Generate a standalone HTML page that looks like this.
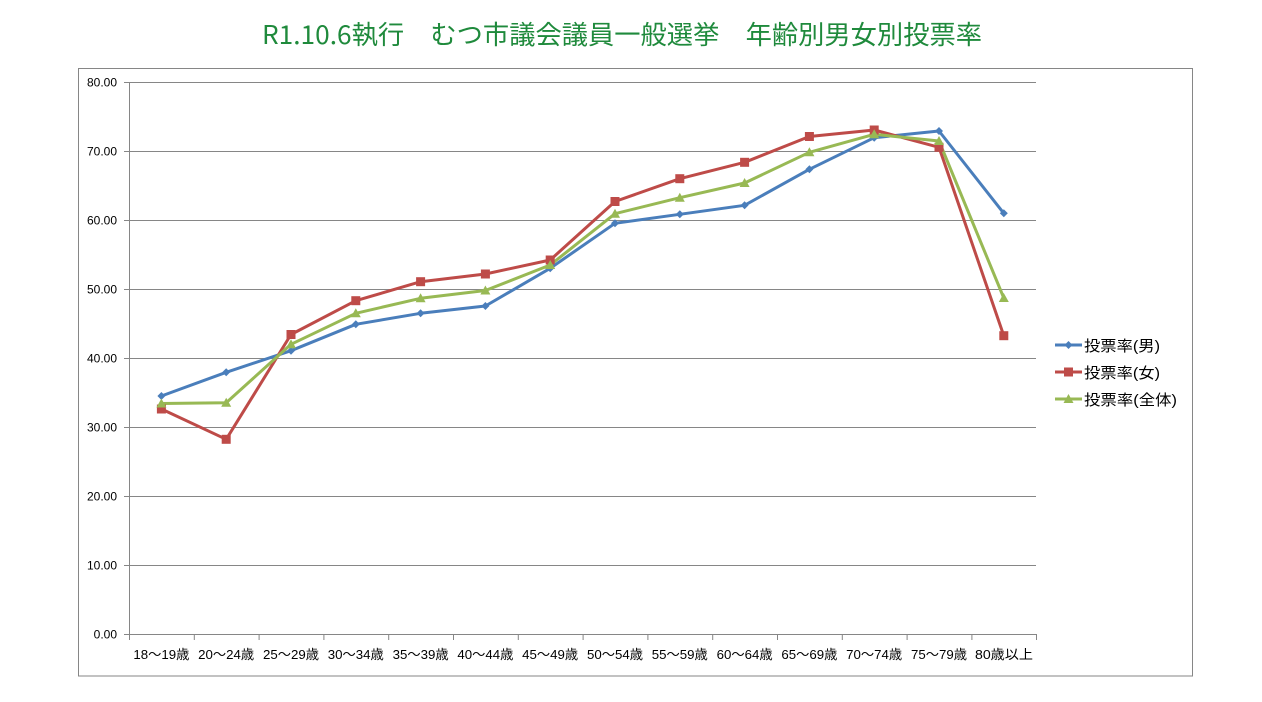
<!DOCTYPE html>
<html>
<head>
<meta charset="utf-8">
<style>
  html,body{margin:0;padding:0;background:#fff;}
  svg{display:block;}
  text{font-family:"Liberation Sans","Noto Sans CJK JP",sans-serif;}
</style>
</head>
<body>
<svg width="1262" height="702" viewBox="0 0 1262 702" xmlns="http://www.w3.org/2000/svg">
  <rect x="0" y="0" width="1262" height="702" fill="#ffffff"/>
  <!-- Title -->
  <text x="622" y="44" text-anchor="middle" font-size="26" fill="#1f8a3c" textLength="720" lengthAdjust="spacingAndGlyphs" style="font-family:'Noto Sans CJK JP','Liberation Sans',sans-serif;font-weight:400;">R1.10.6執行　むつ市議会議員一般選挙　年齢別男女別投票率</text>

  <!-- Chart border -->
  <rect x="78.5" y="68.5" width="1114" height="607.5" fill="none" stroke="#868686" stroke-width="1"/>

  <!-- Gridlines -->
  <g stroke="#868686" stroke-width="1">
    <line x1="124" y1="82.5" x2="1036" y2="82.5"/>
    <line x1="124" y1="151.5" x2="1036" y2="151.5"/>
    <line x1="124" y1="220.5" x2="1036" y2="220.5"/>
    <line x1="124" y1="289.5" x2="1036" y2="289.5"/>
    <line x1="124" y1="358.5" x2="1036" y2="358.5"/>
    <line x1="124" y1="427.5" x2="1036" y2="427.5"/>
    <line x1="124" y1="496.5" x2="1036" y2="496.5"/>
    <line x1="124" y1="565.5" x2="1036" y2="565.5"/>
    <line x1="124" y1="634.5" x2="1036" y2="634.5"/>
    <!-- y axis -->
    <line x1="129.5" y1="82" x2="129.5" y2="634"/>
    <!-- x ticks -->
    <line x1="129.5" y1="634" x2="129.5" y2="640"/>
    <line x1="194.3" y1="634" x2="194.3" y2="640"/>
    <line x1="259.1" y1="634" x2="259.1" y2="640"/>
    <line x1="323.9" y1="634" x2="323.9" y2="640"/>
    <line x1="388.7" y1="634" x2="388.7" y2="640"/>
    <line x1="453.5" y1="634" x2="453.5" y2="640"/>
    <line x1="518.3" y1="634" x2="518.3" y2="640"/>
    <line x1="583.1" y1="634" x2="583.1" y2="640"/>
    <line x1="647.9" y1="634" x2="647.9" y2="640"/>
    <line x1="712.7" y1="634" x2="712.7" y2="640"/>
    <line x1="777.5" y1="634" x2="777.5" y2="640"/>
    <line x1="842.3" y1="634" x2="842.3" y2="640"/>
    <line x1="907.1" y1="634" x2="907.1" y2="640"/>
    <line x1="971.9" y1="634" x2="971.9" y2="640"/>
    <line x1="1036.5" y1="634" x2="1036.5" y2="640"/>
  </g>

  <!-- Y labels -->
  <g font-size="12" fill="#000" text-anchor="end">
    <text x="117" y="86.5">80.00</text>
    <text x="117" y="155.5">70.00</text>
    <text x="117" y="224.5">60.00</text>
    <text x="117" y="293.5">50.00</text>
    <text x="117" y="362.5">40.00</text>
    <text x="117" y="431.5">30.00</text>
    <text x="117" y="500.5">20.00</text>
    <text x="117" y="569.5">10.00</text>
    <text x="117" y="638.5">0.00</text>
  </g>

  <!-- X labels -->
  <g font-size="13" fill="#000" text-anchor="middle">
    <text x="161.4" y="659" textLength="56" lengthAdjust="spacingAndGlyphs">18～19歳</text>
    <text x="226.2" y="659" textLength="56" lengthAdjust="spacingAndGlyphs">20～24歳</text>
    <text x="291" y="659" textLength="56" lengthAdjust="spacingAndGlyphs">25～29歳</text>
    <text x="355.8" y="659" textLength="56" lengthAdjust="spacingAndGlyphs">30～34歳</text>
    <text x="420.6" y="659" textLength="56" lengthAdjust="spacingAndGlyphs">35～39歳</text>
    <text x="485.4" y="659" textLength="56" lengthAdjust="spacingAndGlyphs">40～44歳</text>
    <text x="550.2" y="659" textLength="56" lengthAdjust="spacingAndGlyphs">45～49歳</text>
    <text x="615" y="659" textLength="56" lengthAdjust="spacingAndGlyphs">50～54歳</text>
    <text x="679.8" y="659" textLength="56" lengthAdjust="spacingAndGlyphs">55～59歳</text>
    <text x="744.6" y="659" textLength="56" lengthAdjust="spacingAndGlyphs">60～64歳</text>
    <text x="809.4" y="659" textLength="56" lengthAdjust="spacingAndGlyphs">65～69歳</text>
    <text x="874.2" y="659" textLength="56" lengthAdjust="spacingAndGlyphs">70～74歳</text>
    <text x="939" y="659" textLength="56" lengthAdjust="spacingAndGlyphs">75～79歳</text>
    <text x="1004" y="659" textLength="58" lengthAdjust="spacingAndGlyphs">80歳以上</text>
  </g>

  <!-- Series: Male (blue) -->
  <polyline fill="none" stroke="#4a7ebb" stroke-width="3" stroke-linejoin="round"
    points="161.4,396 226.2,372.3 291,350.7 355.8,324.3 420.6,313.3 485.4,306 550.2,268.3 615,223.3 679.8,214.3 744.6,205.3 809.4,169.3 874.2,137.7 939,131 1003.8,213.3"/>
  <!-- Series: Female (red) -->
  <polyline fill="none" stroke="#be4b48" stroke-width="3" stroke-linejoin="round"
    points="161.4,409 226.2,439.3 291,334.5 355.8,300.7 420.6,281.7 485.4,274 550.2,260 615,201.5 679.8,178.7 744.6,162.3 809.4,136.5 874.2,130 939,147.3 1003.8,335.7"/>
  <!-- Series: Total (green) -->
  <polyline fill="none" stroke="#98b954" stroke-width="3" stroke-linejoin="round"
    points="161.4,403.5 226.2,402.7 291,344.3 355.8,313.3 420.6,298.3 485.4,290.5 550.2,265 615,213.7 679.8,197.7 744.6,183 809.4,152.3 874.2,134.3 939,141 1003.8,298"/>

  <!-- Markers male: diamonds -->
  <g fill="#4a7ebb">
    <path d="M161.4,392 l4,4 l-4,4 l-4,-4z"/>
    <path d="M226.2,368.3 l4,4 l-4,4 l-4,-4z"/>
    <path d="M291,346.7 l4,4 l-4,4 l-4,-4z"/>
    <path d="M355.8,320.3 l4,4 l-4,4 l-4,-4z"/>
    <path d="M420.6,309.3 l4,4 l-4,4 l-4,-4z"/>
    <path d="M485.4,302 l4,4 l-4,4 l-4,-4z"/>
    <path d="M550.2,264.3 l4,4 l-4,4 l-4,-4z"/>
    <path d="M615,219.3 l4,4 l-4,4 l-4,-4z"/>
    <path d="M679.8,210.3 l4,4 l-4,4 l-4,-4z"/>
    <path d="M744.6,201.3 l4,4 l-4,4 l-4,-4z"/>
    <path d="M809.4,165.3 l4,4 l-4,4 l-4,-4z"/>
    <path d="M874.2,133.7 l4,4 l-4,4 l-4,-4z"/>
    <path d="M939,127 l4,4 l-4,4 l-4,-4z"/>
    <path d="M1003.8,209.3 l4,4 l-4,4 l-4,-4z"/>
  </g>
  <!-- Markers female: squares -->
  <g fill="#be4b48">
    <rect x="156.9" y="404.5" width="9" height="9"/>
    <rect x="221.7" y="434.8" width="9" height="9"/>
    <rect x="286.5" y="330" width="9" height="9"/>
    <rect x="351.3" y="296.2" width="9" height="9"/>
    <rect x="416.1" y="277.2" width="9" height="9"/>
    <rect x="480.9" y="269.5" width="9" height="9"/>
    <rect x="545.7" y="255.5" width="9" height="9"/>
    <rect x="610.5" y="197" width="9" height="9"/>
    <rect x="675.3" y="174.2" width="9" height="9"/>
    <rect x="740.1" y="157.8" width="9" height="9"/>
    <rect x="804.9" y="132" width="9" height="9"/>
    <rect x="869.7" y="125.5" width="9" height="9"/>
    <rect x="934.5" y="142.8" width="9" height="9"/>
    <rect x="999.3" y="331.2" width="9" height="9"/>
  </g>
  <!-- Markers total: triangles -->
  <g fill="#98b954">
    <path d="M161.4,398.5 l5,9 l-10,0z"/>
    <path d="M226.2,397.7 l5,9 l-10,0z"/>
    <path d="M291,339.3 l5,9 l-10,0z"/>
    <path d="M355.8,308.3 l5,9 l-10,0z"/>
    <path d="M420.6,293.3 l5,9 l-10,0z"/>
    <path d="M485.4,285.5 l5,9 l-10,0z"/>
    <path d="M550.2,260 l5,9 l-10,0z"/>
    <path d="M615,208.7 l5,9 l-10,0z"/>
    <path d="M679.8,192.7 l5,9 l-10,0z"/>
    <path d="M744.6,178 l5,9 l-10,0z"/>
    <path d="M809.4,147.3 l5,9 l-10,0z"/>
    <path d="M874.2,129.3 l5,9 l-10,0z"/>
    <path d="M939,136 l5,9 l-10,0z"/>
    <path d="M1003.8,293 l5,9 l-10,0z"/>
  </g>

  <!-- Legend -->
  <g>
    <line x1="1055" y1="345" x2="1082" y2="345" stroke="#4a7ebb" stroke-width="3"/>
    <path d="M1068.5,341 l4,4 l-4,4 l-4,-4z" fill="#4a7ebb"/>
    <text x="1084" y="351" font-size="15" fill="#000" textLength="76" lengthAdjust="spacingAndGlyphs">投票率(男)</text>

    <line x1="1055" y1="372" x2="1082" y2="372" stroke="#be4b48" stroke-width="3"/>
    <rect x="1064" y="367.5" width="9" height="9" fill="#be4b48"/>
    <text x="1084" y="378" font-size="15" fill="#000" textLength="76" lengthAdjust="spacingAndGlyphs">投票率(女)</text>

    <line x1="1055" y1="399" x2="1082" y2="399" stroke="#98b954" stroke-width="3"/>
    <path d="M1068.5,394 l5,9 l-10,0z" fill="#98b954"/>
    <text x="1084" y="405" font-size="15" fill="#000" textLength="93" lengthAdjust="spacingAndGlyphs">投票率(全体)</text>
  </g>
</svg>
</body>
</html>
